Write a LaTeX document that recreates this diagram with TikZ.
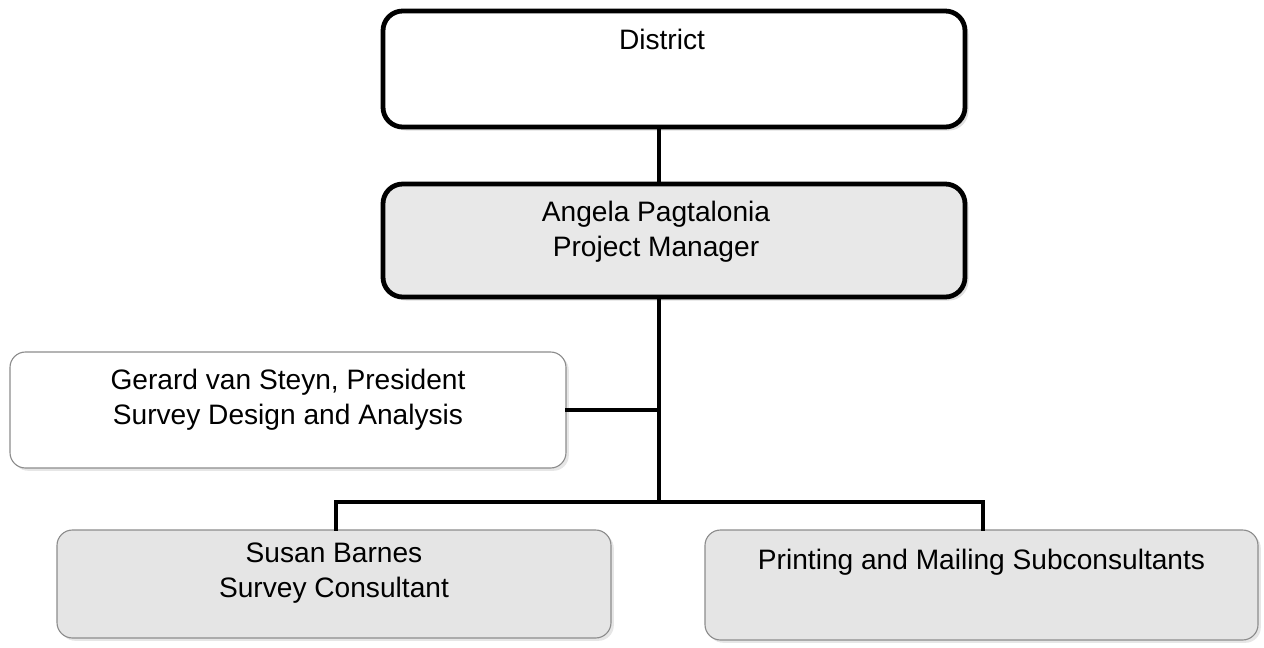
\documentclass[tikz,border=0pt]{standalone}
\usepackage{fontspec}
\setmainfont{Liberation Sans}
\usepackage{tikz}
\usetikzlibrary{positioning, calc, shadows}

\tikzset{
    chartfont/.style={font=\fontsize{20}{25}\selectfont},
    mainbox/.style={draw=black, line width=3.4pt, rounded corners=14pt,
        inner sep=0pt, drop shadow={shadow xshift=2.5pt, shadow yshift=-2.5pt, opacity=0.25}},
    subbox/.style={draw=black!45, line width=0.8pt, rounded corners=11pt,
        inner sep=0pt, drop shadow={shadow xshift=2pt, shadow yshift=-2pt, opacity=0.2}},
    boxtext/.style={chartfont, align=center, inner sep=0pt},
    link/.style={line width=2.8pt, line cap=rect}
}

\begin{document}
\begin{tikzpicture}[x=0.025cm, y=-0.025cm]
    \useasboundingbox (0,0) rectangle (1264,647);

    % branch points of the lines
    \coordinate (trunk) at (659,502);
    \coordinate (barl) at (336,502);
    \coordinate (barr) at (983,502);

    % boxes
    \node[mainbox, fill=white, minimum width=582*0.025cm, minimum height=116*0.025cm,
        label={[boxtext, name=districttext, anchor=center, xshift=-12*0.025cm, yshift=-31*0.025cm]north:District}]
        (district) at (674,69) {};
    \node[mainbox, fill=black!9, minimum width=582*0.025cm, minimum height=113*0.025cm,
        label={[boxtext, name=pmtext, anchor=center, xshift=-18*0.025cm, yshift=9*0.025cm]center:Angela Pagtalonia\\Project Manager}]
        (pm) at (674,240.5) {};
    \node[subbox, fill=white, minimum width=556*0.025cm, minimum height=116*0.025cm,
        label={[boxtext, name=gerardtext, anchor=center, yshift=10*0.025cm]center:Gerard van Steyn, President\\Survey Design and Analysis}]
        (gerard) at (288,410) {};
    \node[subbox, fill=black!10, minimum width=554*0.025cm, minimum height=108*0.025cm,
        label={[boxtext, name=susantext, anchor=center, yshift=11*0.025cm]center:Susan Barnes\\Survey Consultant}]
        (susan) at (334,584) {};
    \node[subbox, fill=black!10, minimum width=553*0.025cm, minimum height=110*0.025cm,
        label={[boxtext, name=printtext, anchor=center, yshift=-33*0.025cm]north:Printing and Mailing Subconsultants}]
        (print) at (981.5,585) {};

    % lines
    \draw[link] (district.south -| trunk) -- (pm.north -| trunk);
    \draw[link] (pm.south -| trunk) -- (trunk);
    \draw[link] (gerard.east) -- (gerard.east -| trunk);
    \draw[link] (susan.north -| barl) -- (barl) -- (barr) -- (barr |- print.north);
\end{tikzpicture}
\end{document}
